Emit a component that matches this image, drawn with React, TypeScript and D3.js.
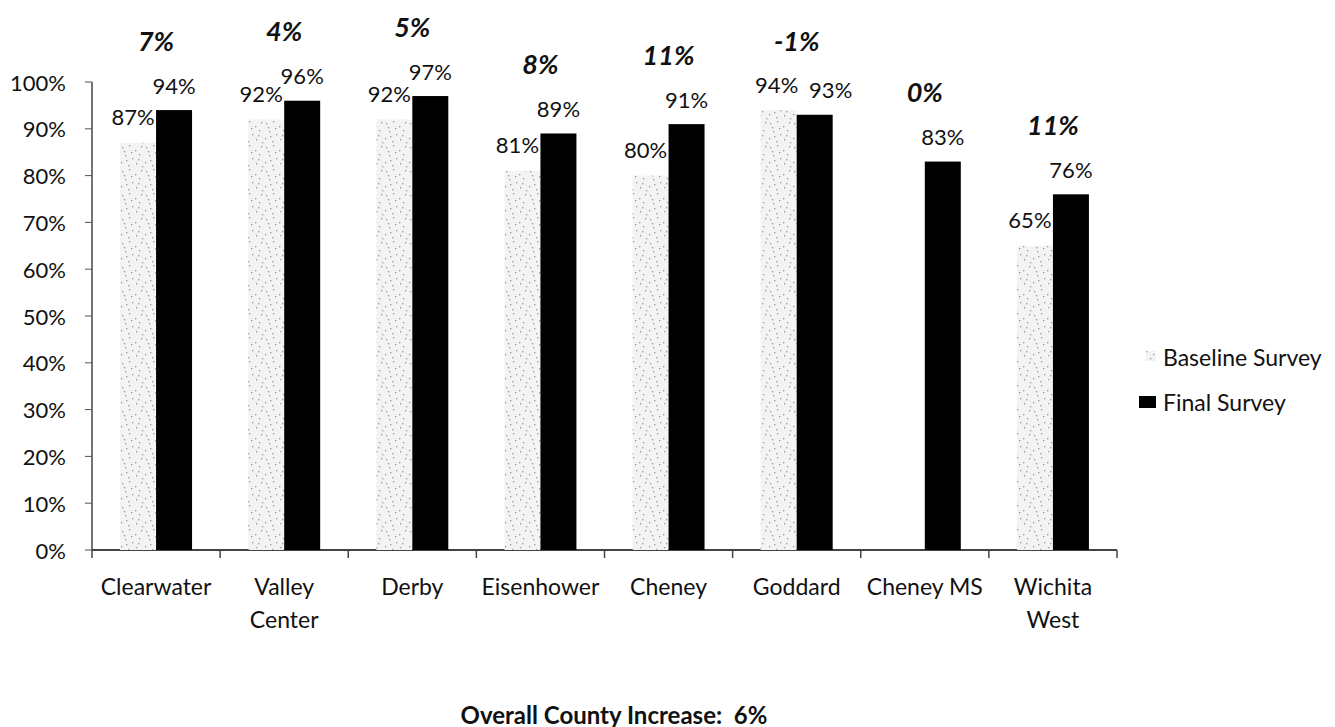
import { useEffect } from "react";
import * as d3 from "d3";

const schools = [
  ["Clearwater"],
  ["Valley", "Center"],
  ["Derby"],
  ["Eisenhower"],
  ["Cheney"],
  ["Goddard"],
  ["Cheney MS"],
  ["Wichita", "West"],
];
const baseline: (number | null)[] = [87, 92, 92, 81, 80, 94, null, 65];
const finalSurvey = [94, 96, 97, 89, 91, 93, 83, 76];
const change = [7, 4, 5, 8, 11, -1, 0, 11];
const yTicks = [0, 10, 20, 30, 40, 50, 60, 70, 80, 90, 100];
const seriesNames = ["Baseline Survey", "Final Survey"];
const overallText = "Overall County Increase:  6%";

// speckle positions inside one pattern tile (texture only, not data)
const speckle = [
  [2, 3], [9, 1], [15, 6], [5, 11], [12, 14], [19, 10], [1, 18],
  [8, 21], [16, 19], [21, 2], [4, 7], [18, 15], [11, 8], [22, 22], [6, 16],
];

const W = 1335;
const H = 727;
const font = "Lato, 'Open Sans', sans-serif";

export default function App() {
  useEffect(() => {
    document.body.style.margin = "0";
  }, []);

  const left = 92;
  const right = 1117;
  const top = 82;
  const bottom = 550;

  const x = d3
    .scaleBand<number>()
    .domain(d3.range(schools.length))
    .range([left, right]);

  const inner = d3
    .scaleBand<string>()
    .domain(seriesNames)
    .range([0, x.bandwidth()])
    .paddingOuter(0.78);

  const y = d3.scaleLinear().domain([0, 100]).range([bottom, top]);

  const bw = inner.bandwidth();

  return (
    <svg width={W} height={H} style={{ display: "block", background: "#fff" }}>
      <defs>
        <pattern id="speck" width={24} height={24} patternUnits="userSpaceOnUse">
          <rect width={24} height={24} fill="#f3f3f3" />
          {speckle.map(([px, py], i) => (
            <rect key={i} x={px} y={py} width={1.3} height={1.3} fill="#999" />
          ))}
        </pattern>
      </defs>

      {/* y axis */}
      <line x1={left} x2={left} y1={top} y2={bottom} stroke="#444" strokeWidth={1.5} />
      {yTicks.map((t) => (
        <g key={t}>
          <line x1={left - 7} x2={left} y1={y(t)} y2={y(t)} stroke="#555" strokeWidth={1} />
          <text
            x={66}
            y={y(t)}
            textAnchor="end"
            dominantBaseline="central"
            fontFamily={font}
            fontSize={22}
            fill="#111"
          >
            {t}%
          </text>
        </g>
      ))}

      {/* x axis */}
      <line x1={left} x2={right} y1={bottom} y2={bottom} stroke="#444" strokeWidth={2} />
      {d3.range(schools.length + 1).map((i) => {
        const xx = i < schools.length ? (x(i) as number) : right;
        return <line key={i} x1={xx} x2={xx} y1={bottom} y2={bottom + 8} stroke="#444" strokeWidth={1.5} />;
      })}

      {/* bars */}
      {schools.map((_, i) => {
        const x0 = x(i) as number;
        const b = baseline[i];
        const f = finalSurvey[i];
        const bx = x0 + (inner(seriesNames[0]) as number);
        const fx = x0 + (inner(seriesNames[1]) as number);
        const cx = x0 + x.bandwidth() / 2;
        const maxV = Math.max(b ?? 0, f);
        // nudge the final label right when the baseline label would overlap it
        const crowded = b !== null && Math.abs(y(b) - y(f)) < 16;
        return (
          <g key={i}>
            {b !== null && (
              <>
                <rect x={bx} y={y(b)} width={bw} height={bottom - y(b)} fill="url(#speck)" />
                <text
                  x={bx + bw / 2 - (crowded ? 2 : 5)}
                  y={y(b) - 26}
                  textAnchor="middle"
                  dominantBaseline="central"
                  fontFamily={font}
                  fontSize={22}
                  fill="#111"
                >
                  {b}%
                </text>
              </>
            )}
            <rect x={fx} y={y(f)} width={bw} height={bottom - y(f)} fill="#000" />
            <text
              x={fx + bw / 2 + (crowded ? 16 : 0)}
              y={y(f) - 25}
              textAnchor="middle"
              dominantBaseline="central"
              fontFamily={font}
              fontSize={22}
              fill="#111"
            >
              {f}%
            </text>
            <text
              x={cx}
              y={y(maxV) - 70}
              textAnchor="middle"
              dominantBaseline="central"
              fontFamily={font}
              fontSize={27}
              fontWeight="bold"
              fontStyle="italic"
              fill="#111"
            >
              {change[i]}%
            </text>
            {schools[i].map((ln, j) => (
              <text
                key={j}
                x={cx}
                y={586 + j * 33}
                textAnchor="middle"
                dominantBaseline="central"
                fontFamily={font}
                fontSize={23}
                fill="#111"
              >
                {ln}
              </text>
            ))}
          </g>
        );
      })}

      {/* legend */}
      <rect x={1146} y={351} width={10} height={10} fill="url(#speck)" />
      <text x={1163} y={357} dominantBaseline="central" fontFamily={font} fontSize={23} fill="#111">
        {seriesNames[0]}
      </text>
      <rect x={1139} y={396} width={17} height={12} fill="#000" />
      <text x={1163} y={402} dominantBaseline="central" fontFamily={font} fontSize={23} fill="#111">
        {seriesNames[1]}
      </text>

      {/* footer */}
      <text
        x={614}
        y={714}
        textAnchor="middle"
        dominantBaseline="central"
        fontFamily={font}
        fontSize={24}
        fontWeight="bold"
        fill="#111"
        style={{ whiteSpace: "pre" }}
      >
        {overallText}
      </text>
    </svg>
  );
}
